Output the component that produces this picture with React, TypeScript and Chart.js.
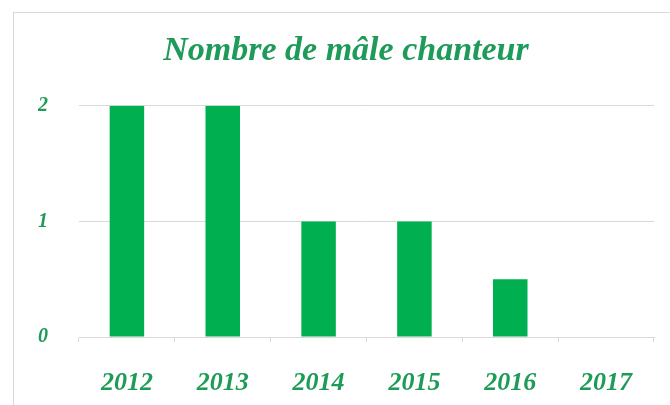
import React, { useEffect, useRef } from "react";
import { Chart, registerables } from "chart.js";

Chart.register(...registerables);

const years = ["2012", "2013", "2014", "2015", "2016", "2017"];
const maleCounts = [2, 2, 1, 1, 0.5, 0];
const yTickValues = [0, 1, 2];
const chartTitle = "Nombre de mâle chanteur";

const TEXT_GREEN = "#1e9b58";
const BAR_GREEN = "#00b050";
const GRID_GREY = "#d9d9d9";
const FONT = "'Liberation Serif', 'DejaVu Serif', serif";

export default function App() {
  const ref = useRef<HTMLCanvasElement | null>(null);

  useEffect(() => {
    if (!ref.current) return;
    const chart = new Chart(ref.current, {
      type: "bar",
      data: {
        labels: years,
        datasets: [
          {
            data: maleCounts,
            backgroundColor: BAR_GREEN,
            borderWidth: 0,
            barPercentage: 0.36,
            categoryPercentage: 1,
          },
        ],
      },
      options: {
        animation: false,
        responsive: false,
        maintainAspectRatio: false,
        layout: { padding: { left: 38, right: 16, top: 0, bottom: 0 } },
        plugins: {
          legend: { display: false },
          tooltip: { enabled: false },
          title: {
            display: true,
            text: chartTitle,
            color: TEXT_GREEN,
            font: { family: FONT, size: 34, style: "italic", weight: "bold", lineHeight: 1.2 },
            padding: { top: 31, bottom: 34 },
          },
        },
        scales: {
          x: {
            offset: true,
            grid: {
              display: true,
              drawOnChartArea: false,
              drawTicks: true,
              tickLength: 5,
              color: GRID_GREY,
              offset: true,
            },
            border: { display: true, color: GRID_GREY },
            ticks: {
              color: TEXT_GREEN,
              padding: 26,
              font: { family: FONT, size: 26, style: "italic", weight: "bold" },
            },
            afterFit: (s: any) => {
              s.height = 405 - 337;
            },
          },
          y: {
            min: 0,
            max: 2,
            afterBuildTicks: (s: any) => {
              s.ticks = yTickValues.map((v) => ({ value: v }));
            },
            grid: { display: true, drawTicks: false, color: GRID_GREY },
            border: { display: false },
            ticks: {
              color: TEXT_GREEN,
              padding: 31,
              font: { family: FONT, size: 20, style: "italic", weight: "bold" },
            },
            afterFit: (s: any) => {
              s.width = 41;
            },
          },
        },
      },
    });
    return () => chart.destroy();
  }, []);

  return (
    <div
      style={{
        position: "fixed",
        left: 0,
        top: 0,
        width: 670,
        height: 405,
        overflow: "hidden",
        background: "#ffffff",
      }}
    >
      <div
        style={{
          position: "absolute",
          left: 13,
          top: 12,
          width: 700,
          height: 450,
          border: "1px solid " + GRID_GREY,
          boxSizing: "border-box",
        }}
      />
      <canvas
        ref={ref}
        width={670}
        height={405}
        style={{ position: "absolute", left: 0, top: 0, width: 670, height: 405 }}
      />
    </div>
  );
}
